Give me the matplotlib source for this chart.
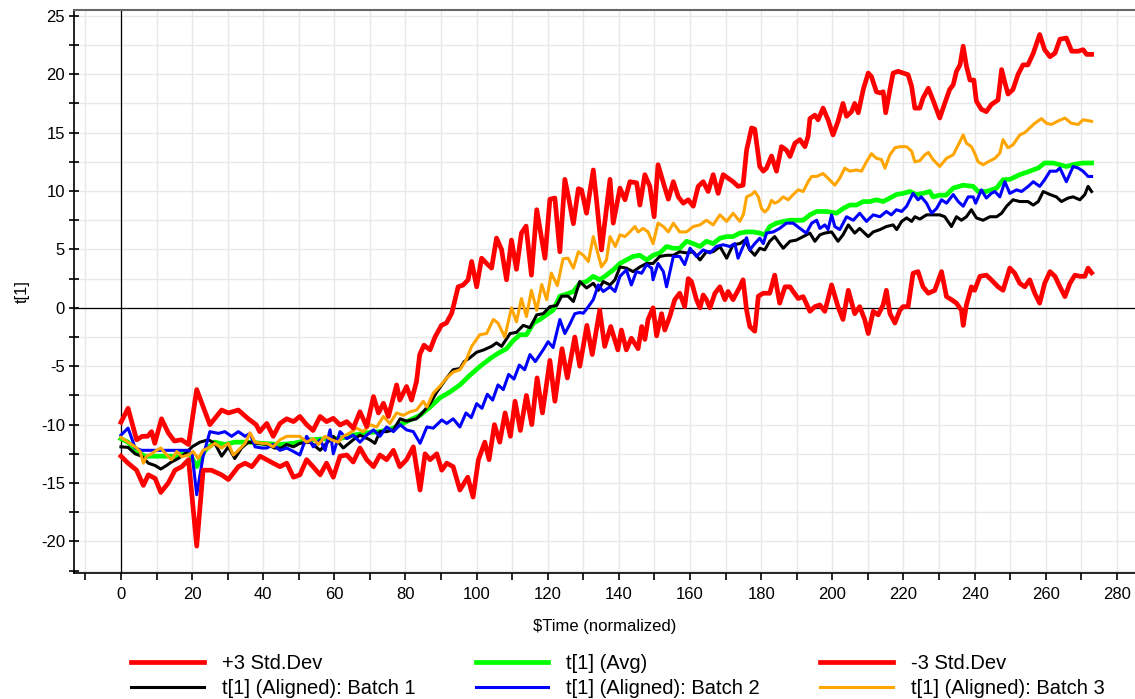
import numpy as np
import matplotlib.pyplot as plt
from matplotlib.ticker import MultipleLocator

plt.rcParams['font.family'] = ['Liberation Sans', 'DejaVu Sans']
plt.rcParams['axes.unicode_minus'] = False

# +3 Std.Dev limit
t_upper = [0, 2, 4.4, 6, 7.5, 8.6, 9.5, 11.4, 13.3, 15, 17, 19, 21.3, 25, 28.3, 30.2, 33, 35.8, 38,
           39, 41, 42.8, 44.7, 46.6, 48.5, 50.3, 52.2, 54, 56, 57.8, 59.7, 61.6, 63.5, 65.3, 67.2, 69.1,
           71, 72.4, 73.8, 75.2, 77.5, 78.4, 80.3, 81.7, 83.1, 84, 85.2, 86.9, 88.3, 90.1, 91.5, 93,
           94.8, 96.2, 97.6, 98.6, 100, 101.4, 102.8, 104.2, 105.6, 107, 108.4, 109.8, 111.2, 112.6,
           113.9, 115.4, 116.9, 119.2, 120.6, 122, 123.4, 124.8, 126, 127.2, 128.6, 129.5, 130.9, 132.8,
           133.7, 135.1, 137.5, 138.4, 140.3, 141.7, 143.1, 145, 145.9, 147.3, 148.7, 149.9, 151, 152.5,
           153.9, 155.3, 156.7, 158.1, 159.5, 160.9, 162.3, 163.7, 165.1, 166.5, 167.9, 169.3, 170.7,
           172.1, 173.5, 174.9, 175.9, 177.3, 178.2, 179.6, 180.6, 181.5, 182.9, 184.3, 185.7, 187.1,
           188.1, 189.5, 190.9, 192.3, 193.2, 193.7, 195.1, 196, 197.4, 198.8, 200.2, 201.6, 203, 204,
           205.4, 206.3, 207.3, 208.7, 210.1, 211, 212.4, 213.4, 214.3, 215, 216.2, 217.1, 218.5, 219.9,
           221.3, 222.3, 223.2, 224.6, 225.5, 227, 228.3, 230.2, 231.6, 233, 234, 234.9, 235.9, 236.8,
           237.7, 238.7, 239.8, 240.5, 241.9, 243.3, 244.7, 246.6, 247.6, 248.5, 249.4, 250.8, 252.2,
           253.6, 255, 256.5, 258.3, 259.7, 261.2, 262.6, 264, 265.8, 267.3, 269.1, 270.5, 271.5, 272.9]
v_upper = [-9.8, -8.6, -11.3, -11.0, -11.0, -10.6, -11.6, -9.5, -10.7, -11.4, -11.3, -11.7, -7.0, -10.0,
           -8.75, -9.0, -8.75, -9.5, -10.0,
           -10.6, -9.9, -11.0, -9.9, -9.5, -9.74, -9.3, -10.0, -10.5, -9.3, -9.74, -9.46, -10.03, -9.74,
           -10.3, -8.9, -10.17, -7.6, -9.0, -8.17, -9.3, -6.6, -7.9, -6.74, -7.9, -6.3, -4.0, -3.2, -3.6,
           -2.5, -1.5, -1.3, -0.46, 1.8, 1.95, 2.4, 3.97, 1.8, 4.25, 3.8, 3.4, 5.97, 5.0, 2.4, 5.8, 3.3,
           6.4, 7.0, 2.8, 8.4, 4.25, 9.3, 9.4, 4.8, 11.0, 9.2, 7.2, 10.2, 10.1, 8.1, 11.8, 9.25, 4.96,
           11.0, 7.25, 10.25, 9.25, 10.8, 10.7, 8.8, 11.4, 10.4, 7.8, 12.25, 10.7, 9.3, 10.8, 9.5, 8.96,
           9.25, 8.7, 10.4, 10.8, 9.96, 11.4, 9.8, 11.4, 11.1, 10.8, 10.4, 10.5, 13.5, 15.4, 15.3, 12.1,
           11.7, 11.96, 13.0, 11.7, 13.8, 13.5, 12.96, 14.1, 14.4, 13.8, 14.7, 16.2, 16.5, 16.1, 17.1,
           16.1, 14.8, 15.96, 17.5, 16.4, 16.8, 17.5, 16.7, 18.7, 20.1, 19.8, 18.5, 18.4, 18.5, 16.7,
           18.7, 20.1, 20.25, 20.1, 19.96, 18.96, 17.1, 17.1, 17.96, 18.8, 17.8, 16.25, 17.5, 18.7, 19.1,
           20.25, 20.8, 22.4, 20.7, 19.5, 19.5, 17.7, 17.0, 16.8, 17.4, 17.8, 20.4, 19.3, 18.3, 18.7,
           19.97, 20.8, 20.8, 21.8, 23.4, 22.1, 21.5, 21.8, 23.0, 23.1, 21.97, 21.97, 22.1, 21.7, 21.7]

# -3 Std.Dev limit
t_lower = [0, 2, 4.4, 6.3, 7.7, 9.6, 11.2, 13.3, 15.2, 17.1, 19, 21.3, 23.1, 25.4, 28.3, 30.2, 33, 34.9,
           36.8, 39.1, 41, 42.8, 44.7, 46.6, 48.5, 50.3, 52.2, 54, 56, 57.8, 59.7, 61.6, 63.5, 65.3,
           67.2, 69.1, 71, 72.8, 74.7, 76.6, 78.4, 80.3, 82.2, 84.1, 85.5, 86.9, 88.8, 90.2, 91.6, 93.4,
           95.3, 97.5, 99, 100.5, 102.3, 103.5, 105, 106.5, 108, 109.5, 110.8, 112.3, 114, 115.5, 117,
           118.5, 120.6, 122, 124, 125.5, 127.6, 129, 131, 132.5, 134.6, 136, 137.7, 139.7, 140.7, 142.1,
           143.5, 145.4, 146.4, 147.3, 148.2, 149.6, 150.6, 152, 152.9, 154.3, 155.7, 157.1, 158.5,
           159.5, 160.4, 161.8, 162.8, 163.7, 164.6, 165.6, 167, 168.4, 169.8, 170.7, 172.1, 174, 174.9,
           175.9, 176.8, 178.2, 179.2, 180.6, 182.4, 183.8, 185.2, 186.7, 188.1, 189, 190.4, 191.8,
           193.7, 195.1, 196.5, 197.9, 199.8, 201.6, 203, 204.5, 206.3, 207.7, 209.1, 210.1, 211.5,
           212.9, 214.3, 215.2, 216.2, 217.6, 219, 219.9, 221.3, 222.7, 224.1, 225.5, 227, 228.8, 230.7,
           232.1, 233.5, 234.9, 236.3, 236.8, 237.7, 239.1, 240, 241.5, 243.3, 244.7, 246.6, 248, 249.9,
           251.3, 252.7, 254.1, 255.5, 256.9, 258.3, 259.7, 261.2, 262.6, 264, 265.4, 266.8, 268.2,
           269.6, 271, 271.9, 272.9]
v_lower = [-12.7, -13.3, -13.9, -15.2, -14.3, -14.6, -15.8, -15.0, -13.9, -13.6, -13.0, -20.4, -13.9,
           -13.9, -14.3, -14.7, -13.6, -13.3, -13.6, -12.7, -13.0, -13.3, -13.6, -13.3, -14.5, -14.3,
           -13.0, -13.6, -14.3, -13.3, -14.5, -12.7, -12.6, -13.2, -12.0, -13.0, -13.6, -12.6, -13.0,
           -12.2, -13.6, -13.0, -11.9, -15.6, -12.5, -13.0, -12.5, -13.9, -13.3, -13.6, -15.6, -14.5,
           -16.2, -13.0, -11.5, -13.0, -10.0, -11.5, -9.0, -11.0, -8.0, -10.5, -7.5, -10.0, -6.0, -9.0,
           -4.5, -8.0, -3.5, -6.0, -2.5, -5.0, -1.5, -4.0, -0.2, -3.3, -1.6, -3.6, -1.9, -3.6, -2.6,
           -3.5, -1.6, -2.7, -1.0, 0.0, -2.4, -0.5, -1.9, -0.75, 0.7, 1.25, 0.1, 2.5, 2.25, 0.7, 0.0,
           1.1, 0.7, 0.0, 1.25, 1.8, 0.7, 1.4, 0.7, 1.8, 2.4, -0.2, -1.6, -2.0, 1.0, 1.25, 1.25, 2.8,
           0.4, 1.8, 1.8, 1.4, 0.8, 0.96, -0.3, 0.1, 0.25, -0.3, 1.96, 0.1, -1.0, 1.5, -0.5, 0.1, -1.0,
           -2.2, -0.3, -0.6, 0.25, 1.5, -0.5, -1.3, -0.2, 0.1, 0.1, 2.96, 3.1, 1.8, 1.25, 1.5, 3.1,
           0.96, 0.7, 0.4, -0.2, -1.5, 0.25, 1.8, 1.5, 2.7, 2.8, 2.4, 1.8, 1.5, 3.4, 2.96, 2.1, 1.8,
           2.4, 1.25, 0.4, 2.1, 3.1, 2.7, 1.8, 0.96, 2.1, 2.8, 2.7, 2.7, 3.4, 3.0]

# t[1] (Avg)
t_avg = [0, 2, 4, 6.7, 11.4, 15.2, 19, 21.3, 23.6, 26.4, 29.2, 32, 35.8, 39.6, 44.7, 48.5, 53.2, 57.8,
         61.6, 65.3, 69, 72.8, 76.6, 78.5, 81.3, 84.1, 86.9, 89.7, 92.5, 95.3, 98, 101, 104, 106, 108.4,
         110.3, 112.2, 114, 116, 117.8, 119.6, 121.5, 123.4, 125.5, 127.2, 129, 130.9, 132.8, 134.6,
         136.5, 138.4, 140.3, 142.1, 144, 145.9, 147.8, 149.6, 151.5, 153.4, 155.3, 157.1, 159, 160.9,
         162.8, 164.6, 166.5, 168.4, 170.3, 172.1, 174, 175.9, 177.7, 179.6, 181, 182.4, 184.3, 186.2,
         188.1, 189.9, 191.8, 193.7, 195.6, 198.4, 201.2, 203, 204.9, 206.8, 208.7, 210.6, 212.4, 214.3,
         216.2, 218, 219.9, 221.8, 223.7, 225.5, 227.4, 228.3, 230.2, 232, 234, 236.8, 239.6, 241,
         243.3, 246.2, 248, 249.9, 252.7, 255.5, 257.9, 259.7, 262.1, 264, 265.8, 268.2, 270.5, 272.9]
v_avg = [-11.2, -11.5, -12.2, -12.7, -12.7, -12.7, -12.3, -13.6, -12.2, -11.5, -11.7, -11.5, -11.5,
         -11.6, -11.7, -11.6, -11.3, -11.2, -11.2, -10.9, -10.7, -10.6, -10.3, -10.0, -9.6, -9.2, -8.5,
         -7.7, -7.2, -6.6, -5.8, -5.0, -4.3, -3.9, -3.5, -2.8, -2.3, -2.3, -1.3, -1.0, -0.6, -0.2, 1.0,
         1.2, 1.4, 2.1, 2.25, 2.7, 2.4, 2.8, 3.25, 3.8, 4.1, 4.4, 4.5, 4.1, 4.5, 4.7, 5.25, 5.1, 5.1,
         5.7, 5.5, 5.25, 5.7, 5.5, 5.96, 6.1, 6.1, 6.4, 6.5, 6.5, 6.4, 6.25, 6.96, 7.25, 7.4, 7.5, 7.5,
         7.5, 7.96, 8.25, 8.25, 8.1, 8.5, 8.8, 8.8, 9.1, 9.1, 9.25, 9.1, 9.4, 9.7, 9.8, 9.96, 9.7, 9.8,
         9.96, 9.5, 9.65, 9.65, 10.25, 10.5, 10.4, 9.96, 9.96, 10.25, 10.97, 11.0, 11.4, 11.7, 11.97,
         12.4, 12.4, 12.25, 12.1, 12.3, 12.4, 12.4]

# t[1] (Aligned): Batch 1
t_b1 = [0, 2, 4, 5.8, 7.7, 9.6, 11.2, 12.8, 14.2, 16.1, 18, 20, 22.2, 24.6, 26.4, 28.3, 30.2, 32, 33.9,
        35.8, 38.6, 41.4, 43.1, 45.1, 46.6, 48.5, 50.3, 53.2, 56, 57.8, 59.7, 62.5, 65.3, 67.2, 70,
        71.4, 72.8, 74.7, 76.6, 78.5, 80.3, 83.1, 85, 86.9, 88.8, 91.6, 93.4, 95.3, 96.5, 98, 100, 102,
        104.2, 105.6, 107, 109.4, 111.2, 113.1, 115, 116.9, 118.7, 120.6, 122.5, 123.9, 125.7, 127.2,
        129, 130.9, 132.8, 134.2, 135.6, 137.5, 138.9, 140.3, 142.1, 144, 145.9, 147.8, 149.6, 151.5,
        153.4, 155.3, 157.1, 159, 160.9, 162.8, 164.6, 166.5, 168.4, 170.3, 172.1, 174, 175.4, 176.8,
        178.2, 179.6, 181, 182.4, 183.8, 185.2, 186.2, 188.1, 189.9, 191.8, 193.7, 195.1, 196.5, 197.9,
        199.8, 201.6, 203, 204.5, 206.3, 207.7, 210.1, 211.5, 213.4, 215.2, 217.1, 218.1, 219.5, 220.9,
        222.3, 223.2, 224.6, 226.5, 228.3, 230.2, 231.6, 233.5, 234.9, 236.3, 237.7, 239.1, 240.5,
        242.4, 244.3, 246.2, 247.6, 249, 250.8, 252.7, 255, 256.5, 257.9, 259.3, 261.2, 263, 264.4,
        266.3, 267.7, 269.6, 271, 271.9, 272.9]
v_b1 = [-11.9, -11.95, -12.5, -12.7, -13.3, -13.5, -13.8, -13.5, -13.2, -12.9, -12.5, -11.9, -11.5,
        -11.3, -11.6, -12.7, -11.9, -12.9, -12.0, -11.5, -11.6, -11.7, -12.0, -12.0, -11.7, -11.9,
        -11.6, -11.5, -12.2, -11.6, -11.0, -12.0, -11.3, -10.9, -11.3, -11.6, -10.6, -10.6, -10.45,
        -9.5, -9.7, -9.5, -8.9, -8.2, -7.2, -6.0, -5.3, -5.2, -4.6, -4.3, -3.8, -3.6, -3.3, -3.0, -3.3,
        -2.2, -2.1, -1.5, -1.7, -0.6, -0.5, 0.1, 0.2, 1.0, 1.0, 0.54, 2.25, 1.7, 2.1, 1.5, 2.25, 1.96,
        2.4, 3.5, 3.4, 3.1, 3.5, 3.8, 3.8, 4.4, 4.5, 4.5, 4.8, 4.7, 4.8, 4.1, 4.8, 4.8, 5.25, 4.25,
        5.4, 5.5, 5.8, 4.96, 4.5, 5.1, 4.96, 5.7, 6.1, 5.5, 5.1, 5.7, 5.8, 6.1, 6.4, 5.7, 6.25, 6.4,
        6.5, 5.7, 6.25, 7.1, 6.4, 6.8, 6.1, 6.5, 6.7, 6.96, 7.1, 6.7, 7.4, 7.7, 7.4, 7.8, 7.6, 7.96,
        7.96, 7.96, 7.8, 6.96, 7.8, 7.5, 7.8, 8.4, 7.7, 7.5, 7.8, 7.8, 8.1, 8.7, 9.25, 9.1, 9.1, 8.8,
        9.1, 9.96, 9.7, 9.5, 9.1, 9.4, 9.5, 9.25, 9.7, 10.4, 9.96]

# t[1] (Aligned): Batch 2
t_b2 = [0, 2, 4, 5.8, 10, 15, 19, 20, 21.3, 23.1, 25, 27.4, 29.2, 31.1, 33, 34.9, 36.3, 37.7, 39.6, 41,
        42.8, 44.7, 46.6, 48.5, 50.3, 52.2, 54.1, 56, 57.4, 58.8, 59.7, 61.6, 63.5, 65.3, 67.2, 69.1,
        71, 72.8, 74.7, 76.6, 78.5, 80.3, 82.2, 84.1, 86, 87.8, 90.2, 91.6, 93.4, 95.3, 97, 98.5, 100,
        101.5, 103, 104.5, 106, 107.5, 109, 110.5, 112, 113.5, 115, 116.5, 118.7, 120.1, 121.5, 123.4,
        124.8, 126.2, 127.6, 129, 130, 131.4, 132.8, 134.2, 135.6, 137.5, 138.9, 140.3, 142.1, 143.5,
        144.9, 146.4, 147.8, 149.2, 149.6, 151, 152.5, 153.4, 155.3, 157.1, 158.5, 160, 161.8, 163.7,
        165.6, 167.4, 169.3, 171.2, 172.6, 173.5, 174.9, 175.9, 176.8, 178.2, 179.6, 180.6, 181.5,
        183.4, 185.2, 187.1, 189, 190.9, 192.7, 194.2, 195.6, 196.5, 197.9, 198.8, 199.8, 200.7, 202.1,
        204, 205.9, 207.7, 209.6, 211.5, 213.4, 215.2, 216.6, 218, 219.5, 220.9, 222.7, 224.1, 225,
        226.5, 227.9, 229.3, 230.7, 232.1, 234, 235.4, 236.8, 238.2, 239.6, 240.3, 241.9, 243.3, 244.7,
        245.7, 247.1, 248.5, 249.9, 251.8, 253.2, 255.1, 256.5, 258.3, 259.7, 261.2, 263, 264, 265.8,
        267.7, 269.1, 270.5, 271.9, 272.9]
v_b2 = [-10.9, -10.3, -12.0, -12.2, -12.2, -12.2, -12.2, -12.5, -16.0, -12.7, -10.6, -10.75, -10.6,
        -11.0, -10.6, -11.0, -10.75, -11.9, -12.0, -12.0, -11.7, -12.2, -12.0, -12.3, -12.6, -11.0,
        -11.9, -11.3, -12.2, -10.45, -12.5, -10.6, -11.2, -10.9, -11.5, -10.9, -10.45, -11.0, -10.2,
        -10.6, -10.0, -10.45, -10.6, -11.6, -10.2, -10.3, -9.6, -9.9, -9.5, -10.2, -9.0, -9.4, -8.2,
        -8.6, -7.4, -7.9, -6.6, -7.0, -5.7, -6.1, -4.9, -5.3, -4.0, -4.6, -3.6, -2.9, -3.4, -1.0, -2.2,
        -1.4, -0.5, -0.4, -0.46, 0.1, 0.7, 1.96, 1.4, 1.8, 1.4, 2.7, 3.25, 1.96, 3.1, 2.96, 3.7, 3.4,
        2.4, 3.8, 3.1, 1.8, 4.4, 4.4, 3.7, 5.1, 4.4, 4.96, 4.7, 5.25, 5.4, 5.25, 5.5, 4.25, 5.25, 6.0,
        4.96, 5.5, 5.96, 5.5, 6.4, 6.5, 6.8, 7.25, 7.25, 6.8, 6.4, 7.25, 7.5, 6.8, 7.1, 6.7, 7.96,
        6.96, 6.7, 7.8, 7.5, 8.1, 7.4, 7.96, 7.8, 8.25, 7.96, 8.4, 8.25, 8.7, 9.8, 9.25, 9.5, 8.96,
        8.1, 8.5, 9.25, 8.96, 9.7, 9.1, 8.7, 9.5, 9.5, 8.96, 10.1, 9.4, 9.8, 9.96, 9.5, 10.8, 9.8,
        10.1, 9.96, 10.4, 10.8, 10.4, 10.97, 11.7, 11.7, 11.97, 10.8, 12.1, 11.97, 11.7, 11.25, 11.25]

# t[1] (Aligned): Batch 3
t_b3 = [0, 2, 4, 5.4, 6.3, 7.2, 8.6, 10, 11.2, 12.6, 14.2, 15.7, 17.1, 19, 20.3, 21.7, 23.1, 24.6,
        26.4, 28.3, 30.2, 31.6, 33, 34.9, 36.3, 37.7, 39.6, 41, 42.8, 44.7, 46.6, 48.5, 50.3, 52.2,
        54.1, 55.5, 57.4, 59.2, 61.1, 62.5, 64.4, 66.3, 68.1, 70, 71.9, 73.8, 75.6, 77.5, 79.4, 81.3,
        83.1, 85, 86, 87.8, 89.7, 91.6, 93.4, 95.3, 97, 98.6, 100.9, 102.8, 104.7, 106, 107.9, 109.8,
        111.2, 112.6, 114, 115.4, 116.9, 118.3, 119.7, 121, 122.7, 124.3, 125.7, 127.2, 128.6, 130,
        131.4, 132.8, 134.2, 135.1, 136.5, 137.5, 139, 140.3, 141.7, 143.1, 144.5, 145.4, 146.8,
        148.2, 149.6, 151, 152.5, 153.9, 155.3, 157.1, 159, 160.9, 162.8, 164.6, 166.5, 168.4, 170.3,
        172.1, 174, 175, 175.9, 177.3, 178.2, 179.2, 180.1, 181, 182, 182.9, 183.8, 184.8, 186.2,
        187.6, 189, 190.4, 191.8, 193.2, 194.2, 195.6, 197.4, 198.8, 200.7, 202.1, 203.5, 204.9,
        206.8, 208.2, 209.6, 211, 212.4, 213.8, 214.8, 216.2, 217.6, 219, 220.9, 222.3, 223.2, 224.6,
        226, 227, 228.3, 230.2, 232.1, 234, 235.4, 236.8, 237.7, 239.1, 240, 241, 242.4, 243.8, 245.7,
        247.1, 248, 249.4, 250.8, 252.7, 254.1, 255.5, 256.9, 258.8, 260.2, 261.6, 263.5, 265.4,
        267.2, 269.1, 270.5, 272.9]
v_b3 = [-11.1, -11.5, -11.9, -12.3, -13.3, -12.7, -12.5, -12.2, -12.0, -12.5, -13.0, -12.3, -12.75,
        -12.6, -12.3, -12.9, -12.2, -12.0, -11.6, -12.0, -11.6, -12.6, -12.2, -11.6, -10.7, -11.5,
        -11.6, -11.6, -11.9, -11.3, -11.0, -11.0, -11.0, -11.5, -11.2, -11.7, -11.0, -11.3, -11.5,
        -11.0, -10.7, -10.3, -10.6, -10.0, -10.2, -9.3, -9.9, -9.0, -9.2, -8.9, -8.75, -8.0, -8.5,
        -7.3, -6.7, -6.0, -5.5, -5.3, -4.5, -3.3, -2.3, -2.2, -1.0, -1.3, -2.5, 0.0, -1.2, 0.8, -0.75,
        1.5, -0.2, 2.0, 0.7, 2.97, 1.9, 4.2, 4.25, 3.4, 4.8, 4.5, 3.96, 6.1, 4.5, 3.5, 4.1, 6.1, 5.25,
        6.25, 6.1, 6.5, 6.96, 6.5, 6.8, 6.5, 5.5, 7.25, 6.96, 6.5, 7.25, 6.5, 6.5, 6.96, 7.1, 7.5, 7.1,
        7.96, 7.4, 8.1, 7.4, 8.0, 9.5, 9.7, 9.96, 9.5, 8.5, 8.2, 8.5, 9.2, 8.96, 9.1, 9.5, 9.25, 9.7,
        10.1, 9.96, 10.8, 11.25, 11.25, 11.5, 11.1, 10.5, 11.1, 11.96, 11.7, 11.8, 11.7, 12.5, 13.2,
        12.8, 12.7, 11.96, 13.1, 13.7, 13.8, 13.8, 13.4, 12.5, 12.6, 13.1, 13.3, 12.7, 12.1, 12.8,
        13.1, 13.96, 14.8, 14.1, 13.8, 13.25, 12.5, 12.25, 12.5, 12.8, 13.25, 14.4, 13.7, 13.96, 14.8,
        15.0, 15.4, 15.8, 16.2, 15.8, 15.7, 16.0, 16.25, 15.8, 15.7, 16.1, 15.97]

fig = plt.figure(figsize=(11.35, 6.99), dpi=100)
ax = fig.add_axes([0.0652, 0.1803, 0.9348, 0.8054])

ax.set_xlim(-13.2, 285.1)
ax.set_ylim(-22.7, 25.5)

ax.xaxis.set_major_locator(MultipleLocator(20))
ax.xaxis.set_minor_locator(MultipleLocator(10))
ax.yaxis.set_major_locator(MultipleLocator(5))
ax.yaxis.set_minor_locator(MultipleLocator(2.5))
ax.grid(True, which='both', color='#e8e8e8', linewidth=1.0, zorder=0)
ax.set_axisbelow(True)

ax.axhline(0, color='black', linewidth=0.9, zorder=1)
ax.axvline(0, color='black', linewidth=0.9, zorder=1)

avg, = ax.plot(t_avg, v_avg, color='#00ff00', linewidth=3.4, label='t[1] (Avg)', zorder=2)
b1, = ax.plot(t_b1, v_b1, color='black', linewidth=2.2, label='t[1] (Aligned): Batch 1', zorder=3)
b2, = ax.plot(t_b2, v_b2, color='#0000ff', linewidth=2.2, label='t[1] (Aligned): Batch 2', zorder=3)
b3, = ax.plot(t_b3, v_b3, color='#ffa500', linewidth=2.2, label='t[1] (Aligned): Batch 3', zorder=3)
up, = ax.plot(t_upper, v_upper, color='#ff0000', linewidth=3.4, label='+3 Std.Dev', zorder=4)
lo, = ax.plot(t_lower, v_lower, color='#ff0000', linewidth=3.4, label='-3 Std.Dev', zorder=4)

ax.spines['right'].set_visible(False)
ax.spines['top'].set_color('#666666')
ax.spines['top'].set_linewidth(1.5)
ax.spines['left'].set_linewidth(1.2)
ax.spines['bottom'].set_linewidth(1.2)

ax.tick_params(axis='y', which='both', direction='inout', length=7, width=1.2, labelsize=12, pad=3)
ax.tick_params(axis='x', which='both', direction='out', length=5, width=1.2, labelsize=12, pad=5)

ax.set_xlabel('\\$Time (normalized)', fontsize=12, labelpad=12)
ax.set_ylabel('t[1]', fontsize=12)
ax.yaxis.set_label_coords(-0.0415, 0.5)

# legend in three columns under the axis
ax.legend(handles=[up, b1, avg, b2, lo, b3], ncol=3, loc='upper center',
          bbox_to_anchor=(0.5127, -0.122), frameon=False, fontsize=14.5,
          handlelength=3.6, handletextpad=0.9, columnspacing=3.0, labelspacing=0.32,
          borderaxespad=0.2)

plt.savefig('out.png', dpi=100)
